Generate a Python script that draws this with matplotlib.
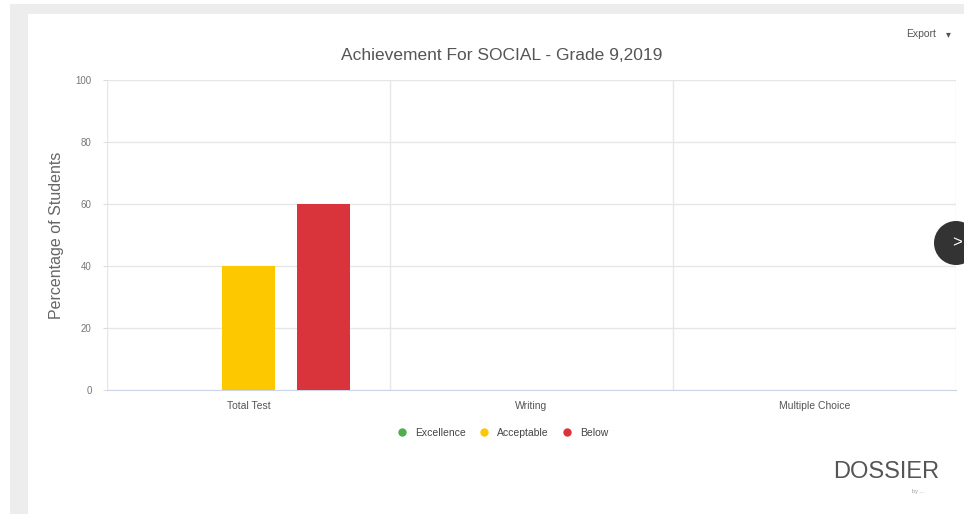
import matplotlib.pyplot as plt
import numpy as np
from matplotlib.patches import Rectangle, Ellipse

plt.rcParams['font.family'] = ['Liberation Sans', 'DejaVu Sans']

# data
categories = ['Total Test', 'Writing', 'Multiple Choice']
series_names = ['Excellence', 'Acceptable', 'Below']
excellence = [0, 0, 0]
acceptable = [40, 0, 0]
below = [60, 0, 0]
colors = ['#4cae4c', '#fdc800', '#d9343b']

W, H = 964, 514


def fx(x):
    return x / W


def fy(y):
    return 1 - y / H


fig = plt.figure(figsize=(9.64, 5.14), dpi=100)
fig.patch.set_facecolor('white')

# grey frame around the card
fig.patches.append(Rectangle((fx(10), 0), 1, fy(4), transform=fig.transFigure,
                             facecolor='#ededed', edgecolor='none', zorder=-2))
fig.patches.append(Rectangle((fx(28), 0), 1, fy(14), transform=fig.transFigure,
                             facecolor='white', edgecolor='none', zorder=-1))

ax = fig.add_axes([fx(107), fy(390), fx(956) - fx(107), fy(80) - fy(390)])
ax.set_facecolor('none')
ax.set_zorder(2)

x = np.arange(len(categories))
offset = 0.265
width = 0.19
for i, (vals, c) in enumerate(zip([excellence, acceptable, below], colors)):
    v = np.array(vals, dtype=float)
    mask = v > 0
    ax.bar(x[mask] + (i - 1) * offset, v[mask], width, color=c, zorder=3)

ax.set_xlim(-0.5, 2.5)
ax.set_ylim(0, 100)
ax.set_yticks(np.arange(0, 101, 20))
ax.set_xticks(x)
ax.set_xticklabels(categories, fontsize=7.5, color='#555555')
ax.tick_params(axis='y', labelsize=7, colors='#777777', length=3, color='#dddddd', pad=8)
ax.tick_params(axis='x', length=0, pad=8)
ax.grid(axis='y', color='#e6e6e6', linewidth=1, zorder=0)
for b in [-0.5, 0.5, 1.5, 2.5]:
    ax.axvline(b, color='#e6e6e6', linewidth=1, zorder=0)
for s in ['top', 'right', 'left']:
    ax.spines[s].set_visible(False)
ax.spines['bottom'].set_color('#ccd6eb')

ax.set_ylabel('Percentage of Students', fontsize=11.5, color='#666666', labelpad=8)

fig.text(fx(502), fy(55), 'Achievement For SOCIAL - Grade 9,2019', fontsize=12.5,
         color='#555555', ha='center', va='center')
fig.text(fx(936), fy(34), 'Export', fontsize=7.5, color='#555555',
         ha='right', va='center')
fig.text(fx(946), fy(34), '\u25be', fontsize=7, color='#555555', ha='left', va='center')

# legend
handles = [plt.Line2D([], [], marker='o', linestyle='none', markersize=5,
                      color=c) for c in colors]
fig.legend(handles, series_names, loc='center', bbox_to_anchor=(fx(500), fy(433)),
           ncol=3, frameon=False, fontsize=7.5, handletextpad=0.2,
           columnspacing=0.8, labelcolor='#444444')

# logo
fig.text(fx(886), fy(472), 'DOSSIER', fontsize=17, color='#555555',
         ha='center', va='center')
fig.text(fx(918), fy(492), 'by ...', fontsize=4, color='#999999',
         ha='center', va='center')

# nav button on right edge
fig.patches.append(Ellipse((fx(956), fy(243)), 44 / W, 44 / H, transform=fig.transFigure,
                           facecolor='#333333', edgecolor='none', zorder=5))
fig.text(fx(957), fy(243), '>', fontsize=12, color='white', ha='center',
         va='center', zorder=6)

fig.savefig('out.png', dpi=100)
